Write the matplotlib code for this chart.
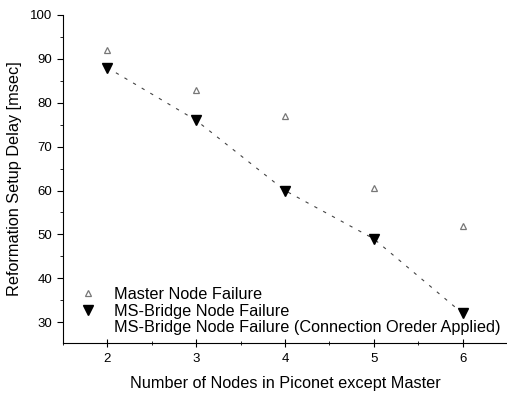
import matplotlib
matplotlib.use("Agg")
import matplotlib.pyplot as plt
from matplotlib.lines import Line2D
from matplotlib.ticker import MultipleLocator

plt.rcParams['font.family'] = ['Liberation Sans', 'DejaVu Sans']

nodes = [2, 3, 4, 5, 6]
master_fail = [92, 83, 77, 60.5, 52]       # Master Node Failure
bridge_fail = [88, 76, 60, 49, 32]         # MS-Bridge Node Failure
bridge_ordered = [88, 76, 60, 49, 32]      # Connection order applied (dashed)

fig = plt.figure(figsize=(5.07, 3.94), dpi=100)
ax = fig.add_axes([0.124, 0.130, 0.876, 0.832])

ax.plot(nodes, bridge_ordered, linestyle=(0, (3, 6)), color="#444444", linewidth=0.8)
m1, = ax.plot(nodes, master_fail, linestyle="none", marker="^", markersize=5,
              markerfacecolor="white", markeredgecolor="#777777", markeredgewidth=0.9)
m2, = ax.plot(nodes, bridge_fail, linestyle="none", marker="v", markersize=7.5,
              color="black")

ax.set_xlim(1.5, 6.5)
ax.set_ylim(25.3, 100)
ax.xaxis.set_major_locator(MultipleLocator(1))
ax.xaxis.set_minor_locator(MultipleLocator(0.5))
ax.yaxis.set_minor_locator(MultipleLocator(5))
ax.set_yticks(range(30, 101, 10))
ax.tick_params(axis="x", which="major", direction="inout", length=6, labelsize=9.5, pad=4)
ax.tick_params(axis="x", which="minor", direction="inout", length=3)
ax.tick_params(axis="y", which="major", direction="out", length=4, labelsize=9.5)
ax.tick_params(axis="y", which="minor", direction="out", length=2)
ax.spines["top"].set_visible(False)
ax.spines["right"].set_visible(False)

ax.set_xlabel("Number of Nodes in Piconet except Master", fontsize=11.7, labelpad=8)
ax.set_ylabel("Reformation Setup Delay [msec]", fontsize=11.7, labelpad=6)

blank = Line2D([], [], linestyle="none")
ax.legend([m1, m2, blank],
          ["Master Node Failure", "MS-Bridge Node Failure",
           "MS-Bridge Node Failure (Connection Oreder Applied)"],
          loc="lower left", bbox_to_anchor=(0.013, 0.0), frameon=False,
          fontsize=11.7, handlelength=1.5, handletextpad=0.85,
          labelspacing=0.12, borderaxespad=0.05)

fig.savefig("out.png", dpi=100)
